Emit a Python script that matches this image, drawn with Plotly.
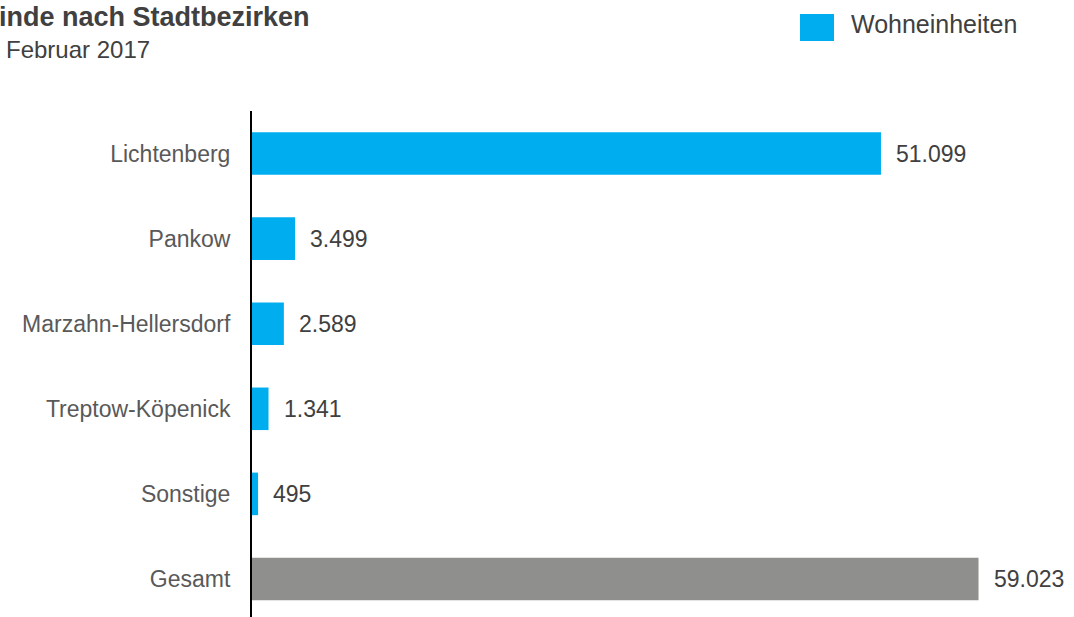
import plotly.graph_objects as go

# Daten
bezirke = ['Lichtenberg', 'Pankow', 'Marzahn-Hellersdorf', 'Treptow-Köpenick', 'Sonstige', 'Gesamt']
wohneinheiten = [51099, 3499, 2589, 1341, 495, 59023]
farben = ['#00AEEF', '#00AEEF', '#00AEEF', '#00AEEF', '#00AEEF', '#8F8F8D']
titel = 'inde nach Stadtbezirken'
untertitel = 'Februar 2017'
legende = 'Wohneinheiten'

W, H = 1074, 617
L, T = 252, 111


# Pixel -> Paper-Koordinaten
def px(x):
    return (x - L) / (W - L)


def py(y):
    return (H - y) / (H - T)


fig = go.Figure(go.Bar(
    x=wohneinheiten, y=bezirke, orientation='h',
    marker=dict(color=farben, line_width=0),
    showlegend=False, hoverinfo='skip'))

# Werte hinter den Balken
for b, v in zip(bezirke, wohneinheiten):
    fig.add_annotation(x=v, y=b, text=f"{v:,}".replace(",", "."), showarrow=False,
                       xanchor='left', xshift=13, font=dict(size=23, color='#404040'))

fig.add_annotation(x=px(-3), y=py(17), xref='paper', yref='paper', text='<b>' + titel + '</b>',
                   showarrow=False, xanchor='left', yanchor='middle',
                   font=dict(size=27, color='#404040'))
fig.add_annotation(x=px(4), y=py(49), xref='paper', yref='paper', text=untertitel,
                   showarrow=False, xanchor='left', yanchor='middle',
                   font=dict(size=24, color='#404040'))

# Legende von Hand
fig.add_shape(type='rect', xref='paper', yref='paper', x0=px(800), x1=px(834), y0=py(41), y1=py(14),
              fillcolor='#00AEEF', line_width=0)
fig.add_annotation(x=px(849), y=py(24), xref='paper', yref='paper', text=legende,
                   showarrow=False, xanchor='left', yanchor='middle',
                   font=dict(size=25, color='#404040'))

fig.update_layout(
    width=W, height=H,
    margin=dict(l=L, r=0, t=T, b=0, pad=0),
    plot_bgcolor='white', paper_bgcolor='white',
    font=dict(family='Liberation Sans, Arial, sans-serif', color='#595959'),
    bargap=0.5,
)
fig.update_xaxes(range=[0, 66780], visible=False)
fig.update_yaxes(range=[5.447, -0.5], autorange=False, showline=True, linecolor='black',
                 linewidth=2, showgrid=False, ticks='', ticklabelstandoff=15,
                 tickfont=dict(size=23, color='#595959'))

fig.write_html("out.html", config={'displayModeBar': False},
               post_script="document.body.style.margin='0';")
